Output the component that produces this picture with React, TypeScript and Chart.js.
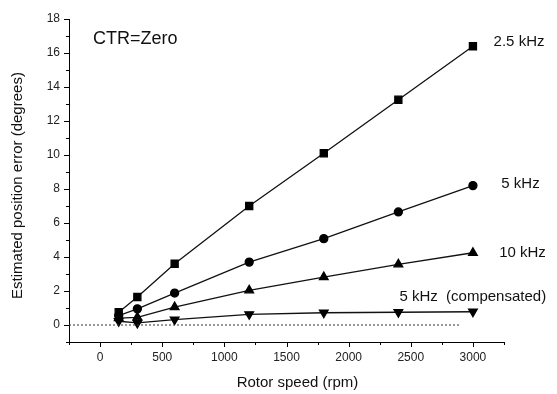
import React, { useEffect, useRef } from "react";
import { Chart, registerables } from "chart.js";

Chart.register(...registerables);

const rotorSpeed = [150, 300, 600, 1200, 1800, 2400, 3000];
const err25kHz = [0.75, 1.65, 3.6, 7.0, 10.1, 13.25, 16.4];
const err5kHz = [0.55, 0.95, 1.88, 3.7, 5.08, 6.65, 8.2];
const err10kHz = [0.4, 0.45, 1.05, 2.04, 2.82, 3.57, 4.25];
const err5kHzComp = [0.22, 0.12, 0.32, 0.63, 0.72, 0.75, 0.78];
const zeroLineX = [-250, 2900];

const xTitle = "Rotor speed (rpm)";
const yTitle = "Estimated position error (degrees)";

// annotation labels: text, x (rpm), y (degrees), alignment
const labelTexts = ["CTR=Zero", "2.5 kHz", "5 kHz", "10 kHz", "5 kHz  (compensated)"];
const labelX = [-56, 3371, 3383, 3399, 3589];
const labelY = [16.8, 16.65, 8.3, 4.24, 1.65];
const labelAlign = ["left", "center", "center", "center", "right"];
const labelSize = [18, 15, 15, 15, 15];

const FONT = "'Liberation Sans', Arial, sans-serif";

const toXY = (ys: number[]) => ys.map((y, i) => ({ x: rotorSpeed[i], y }));

export default function App() {
  const ref = useRef<HTMLCanvasElement>(null);

  useEffect(() => {
    if (!ref.current) return;

    const extras = {
      id: "extras",
      afterDraw(chart: any) {
        const ctx = chart.ctx;
        const xs = chart.scales.x;
        const ys = chart.scales.y;
        const area = chart.chartArea;
        ctx.save();
        ctx.strokeStyle = "#000";
        ctx.lineWidth = 1;
        // x ticks
        for (let v = -250; v <= 3250; v += 250) {
          const px = Math.round(xs.getPixelForValue(v)) + 0.5;
          const len = v % 500 === 0 ? 5 : 3;
          ctx.beginPath();
          ctx.moveTo(px, area.bottom);
          ctx.lineTo(px, area.bottom + len);
          ctx.stroke();
        }
        // y ticks
        for (let v = -1; v <= 18; v += 1) {
          const py = Math.round(ys.getPixelForValue(v)) + 0.5;
          const len = v % 2 === 0 ? 5 : 3;
          ctx.beginPath();
          ctx.moveTo(area.left, py);
          ctx.lineTo(area.left - len, py);
          ctx.stroke();
        }
        // annotation labels
        ctx.fillStyle = "#111";
        ctx.textBaseline = "middle";
        labelTexts.forEach((t, i) => {
          ctx.font = `${labelSize[i]}px ${FONT}`;
          ctx.textAlign = labelAlign[i] as CanvasTextAlign;
          ctx.fillText(t, xs.getPixelForValue(labelX[i]), ys.getPixelForValue(labelY[i]));
        });
        // axis titles
        ctx.font = `15px ${FONT}`;
        ctx.textAlign = "center";
        ctx.fillText(xTitle, (area.left + area.right) / 2 + 11, chart.height - 11);
        ctx.translate(18, (area.top + area.bottom) / 2 + 5);
        ctx.rotate(-Math.PI / 2);
        ctx.fillText(yTitle, 0, 0);
        ctx.restore();
      },
    };

    const lineCommon = {
      borderColor: "#111",
      backgroundColor: "#000",
      pointBackgroundColor: "#000",
      pointBorderColor: "#000",
      borderWidth: 1.3,
      showLine: true,
      tension: 0,
    };

    const chart = new Chart(ref.current, {
      type: "scatter",
      data: {
        datasets: [
          {
            label: "zero",
            data: zeroLineX.map((x) => ({ x, y: 0 })),
            borderColor: "#333",
            borderWidth: 1,
            borderDash: [2, 2],
            pointRadius: 0,
            showLine: true,
          },
          { label: "2.5 kHz", data: toXY(err25kHz), ...lineCommon, pointStyle: "rect", pointRadius: 5 },
          { label: "5 kHz", data: toXY(err5kHz), ...lineCommon, pointStyle: "circle", pointRadius: 4 },
          { label: "10 kHz", data: toXY(err10kHz), ...lineCommon, pointStyle: "triangle", pointRadius: 5 },
          {
            label: "5 kHz (compensated)",
            data: toXY(err5kHzComp),
            ...lineCommon,
            pointStyle: "triangle",
            rotation: 180,
            pointRadius: 5,
          },
        ] as any,
      },
      options: {
        animation: false,
        responsive: false,
        maintainAspectRatio: false,
        layout: { padding: { left: 0, top: 19, right: 53, bottom: 0 } },
        plugins: { legend: { display: false }, tooltip: { enabled: false } },
        scales: {
          x: {
            type: "linear",
            min: -250,
            max: 3250,
            afterFit: (s: any) => {
              s.height = 52;
            },
            ticks: {
              stepSize: 250,
              padding: 8,
              autoSkip: false,
              maxRotation: 0,
              color: "#222",
              font: { family: FONT, size: 12 },
              callback: (v: any) => (Number(v) % 500 === 0 ? String(v) : ""),
            },
            grid: { drawOnChartArea: false, drawTicks: false },
            border: { display: true, color: "#000", width: 1 },
            title: { display: false },
          },
          y: {
            type: "linear",
            min: -1,
            max: 18,
            afterFit: (s: any) => {
              s.width = 69;
            },
            ticks: {
              stepSize: 1,
              padding: 9,
              autoSkip: false,
              color: "#222",
              font: { family: FONT, size: 12 },
              callback: (v: any) => (Number(v) >= 0 && Number(v) % 2 === 0 ? String(v) : ""),
            },
            grid: { drawOnChartArea: false, drawTicks: false },
            border: { display: true, color: "#000", width: 1 },
            title: { display: false },
          },
        },
      },
      plugins: [extras],
    });
    return () => chart.destroy();
  }, []);

  return (
    <div style={{ position: "absolute", left: 0, top: 0, width: 557, height: 394, background: "#fff" }}>
      <canvas ref={ref} width={557} height={394} style={{ width: 557, height: 394 }} />
    </div>
  );
}
